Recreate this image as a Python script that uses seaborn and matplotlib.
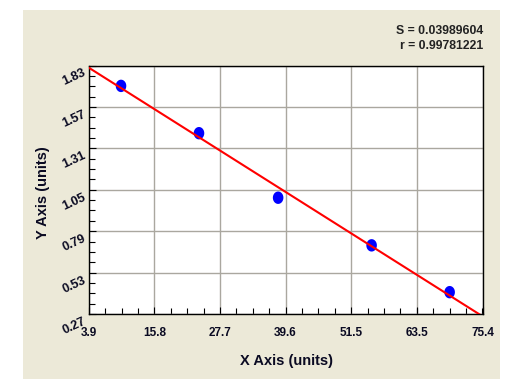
import numpy as np
import pandas as pd
import matplotlib
matplotlib.use("Agg")
import matplotlib.pyplot as plt
from matplotlib.patches import Rectangle
from matplotlib.path import Path
from matplotlib.ticker import FixedLocator, AutoMinorLocator, NullFormatter
import matplotlib.transforms as mtransforms
import seaborn as sns

# ---- data ----
x_values = [9.76, 23.9, 38.25, 55.2, 69.35]
y_values = [1.702, 1.405, 1.000, 0.701, 0.407]
x_ticks = [3.9, 15.8, 27.7, 39.6, 51.5, 63.5, 75.4]
x_tick_labels = ["3.9", "15.8", "27.7", "39.6", "51.5", "63.5", "75.4"]
y_ticks = [0.27, 0.53, 0.79, 1.05, 1.31, 1.57, 1.83]
y_tick_labels = ["0.27", "0.53", "0.79", "1.05", "1.31", "1.57", "1.83"]
stats_lines = ["S = 0.03989604", "r = 0.99781221"]

df = pd.DataFrame({"x": x_values, "y": y_values})

sns.set_style("white")
plt.rcParams["font.family"] = ["Liberation Sans", "DejaVu Sans"]

W, H = 521, 379
fig = plt.figure(figsize=(W / 100, H / 100), dpi=100)
fig.patch.set_facecolor("white")
# beige panel
fig.patches.append(Rectangle((23 / W, 0), (500 - 23) / W, (H - 10) / H,
                             transform=fig.transFigure, facecolor="#ECE9D8",
                             edgecolor="none", zorder=-10))

ax = fig.add_axes([88.7 / W, (H - 314) / H, 394.3 / W, 248.5 / H])
ax.set_facecolor("white")
ax.set_xlim(3.9, 75.4)
ax.set_ylim(0.27, 1.83)

# elliptical marker (slightly taller than wide)
t = np.linspace(0, 2 * np.pi, 40)
ell = Path(np.column_stack([0.85 * np.cos(t), np.sin(t)]))

sns.regplot(data=df, x="x", y="y", ax=ax, ci=None, truncate=False,
            marker=ell,
            scatter_kws=dict(s=80, color="#0000FF", edgecolors="none", zorder=3, alpha=1),
            line_kws=dict(color="#FF0000", lw=1.5, zorder=4))

ax.set_xlim(3.9, 75.4)
ax.set_ylim(0.27, 1.83)

ax.xaxis.set_major_locator(FixedLocator(x_ticks))
ax.yaxis.set_major_locator(FixedLocator(y_ticks))
ax.set_xticklabels(x_tick_labels)
ax.yaxis.set_major_formatter(NullFormatter())
ax.xaxis.set_minor_locator(AutoMinorLocator(4))
ax.yaxis.set_minor_locator(AutoMinorLocator(4))

ax.grid(True, which="major", color="#aaa79f", lw=1.0)
ax.set_axisbelow(True)

ax.tick_params(axis="both", which="both", direction="in", color="black",
               left=True, bottom=True, top=False, right=False)
ax.tick_params(axis="both", which="major", length=5, width=0.8)
ax.tick_params(axis="both", which="minor", length=4, width=0.8)
ax.tick_params(axis="x", which="major", pad=9, labelsize=8.5, labelcolor="#0a0a22")

for lab in ax.get_xticklabels():
    lab.set_fontweight("bold")

# rotated y tick labels
trans = mtransforms.blended_transform_factory(ax.transAxes, ax.transData)
offset = mtransforms.ScaledTranslation(-6 / 100, -1.5 / 100, fig.dpi_scale_trans)
for yv, lab in zip(y_ticks, y_tick_labels):
    ax.text(0, yv, lab, transform=trans + offset, rotation=25,
            rotation_mode="anchor", ha="right", va="top",
            fontsize=9, fontweight="bold", color="#0a0a22", clip_on=False)

for sp in ax.spines.values():
    sp.set_visible(True)
    sp.set_color("black")
    sp.set_linewidth(1.0)

ax.set_xlabel("")
ax.set_ylabel("")
fig.text(286 / W, 1 - 361.5 / H, "X Axis (units)", ha="center", va="center",
         fontsize=10.5, fontweight="bold", color="#0a0a22")
fig.text(43 / W, 1 - 193 / H, "Y Axis (units)", ha="center", va="center",
         rotation=90, fontsize=10.5, fontweight="bold", color="#0a0a22")

fig.text(483 / W, 1 - 30.5 / H, stats_lines[0], ha="right", va="center",
         fontsize=8.8, fontweight="bold", color="#222222")
fig.text(483 / W, 1 - 46 / H, stats_lines[1], ha="right", va="center",
         fontsize=8.8, fontweight="bold", color="#222222")

fig.savefig("out.png", dpi=100, facecolor=fig.get_facecolor())
